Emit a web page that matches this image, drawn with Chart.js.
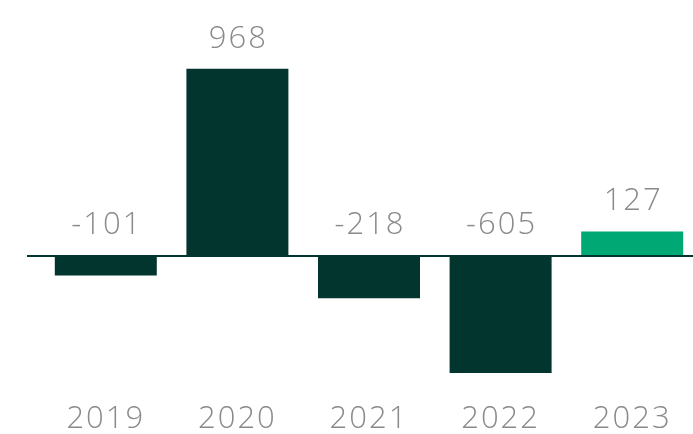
<!DOCTYPE html>
<html>
<head>
<meta charset="utf-8">
<script src="https://cdn.jsdelivr.net/npm/chart.js@4/dist/chart.umd.min.js"></script>
<style>
  html, body { margin: 0; padding: 0; background: #fff; overflow: hidden; }
  #wrap { width: 693px; height: 434px; overflow: hidden; }
</style>
</head>
<body>
<div id="wrap"><canvas id="chart" width="698" height="434"></canvas></div>
<script>
// data
const years = ['2019', '2020', '2021', '2022', '2023'];
const values = [-101, 968, -218, -605, 127];
const barColors = ['#02352d', '#02352d', '#02352d', '#02352d', '#00a874'];

const textGray = '#8a8a8a';
const fontFamily = '"Open Sans", "Noto Sans", sans-serif';

// wider letter spacing, the reference font runs wider than Open Sans
const spacing = {
  id: 'spacing',
  beforeDraw(chart) {
    chart.ctx.letterSpacing = '2px';
  }
};

// zero line + value labels (above the bar, or above the zero line for negatives)
const valueLabels = {
  id: 'valueLabels',
  afterDraw(chart) {
    const { ctx } = chart;
    const y = chart.scales.y;
    const zero = y.getPixelForValue(0);
    const meta = chart.getDatasetMeta(0);
    ctx.save();
    ctx.strokeStyle = '#02352d';
    ctx.lineWidth = 2;
    ctx.beginPath();
    ctx.moveTo(27, zero);
    ctx.lineTo(chart.width, zero);
    ctx.stroke();

    ctx.fillStyle = textGray;
    ctx.font = '300 31px ' + fontFamily;
    ctx.letterSpacing = '2px';
    ctx.textAlign = 'center';
    ctx.textBaseline = 'alphabetic';
    meta.data.forEach((bar, i) => {
      const top = Math.min(bar.y, zero - 1);
      ctx.fillText(String(values[i]), bar.x + 1, top - 21);
    });
    ctx.restore();
  }
};

new Chart(document.getElementById('chart'), {
  type: 'bar',
  data: {
    labels: years,
    datasets: [{
      data: values,
      backgroundColor: barColors,
      borderWidth: 0,
      barPercentage: 0.775,
      categoryPercentage: 1.0
    }]
  },
  options: {
    responsive: false,
    animation: false,
    layout: { padding: { left: 40, right: 0, top: 62.5, bottom: -2 } },
    plugins: { legend: { display: false }, tooltip: { enabled: false } },
    scales: {
      x: {
        grid: { display: false, drawTicks: false },
        border: { display: false },
        ticks: {
          color: textGray,
          padding: 1,
          font: { family: fontFamily, size: 31, weight: 300, lineHeight: 1 }
        }
      },
      y: {
        display: false,
        min: -760,
        max: 1000
      }
    }
  },
  plugins: [spacing, valueLabels]
});
</script>
</body>
</html>
